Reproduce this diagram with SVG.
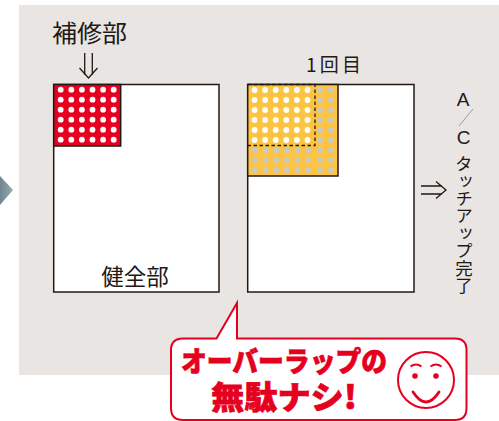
<svg xmlns="http://www.w3.org/2000/svg" xmlns:xlink="http://www.w3.org/1999/xlink" width="499" height="421" viewBox="0 0 499 421">
<style>
.t{font-family:"Noto Sans CJK JP","Liberation Sans",sans-serif;fill:#231815}
.box{fill:#fff;stroke:#231815;stroke-width:1.5}
.arr{fill:none;stroke:#231815;stroke-width:1.3}
.r{font-family:"Noto Sans CJK JP",sans-serif;font-weight:900;fill:#e60020;stroke:#e60020;stroke-width:0.7;text-anchor:middle}
.w{fill:#fff}.g{fill:#c9c9c9}
</style>
<defs>
<circle id="d" r="2.9"/>
<g id="row"><use xlink:href="#d" x="0"/><use xlink:href="#d" x="10.6"/><use xlink:href="#d" x="21.2"/><use xlink:href="#d" x="31.8"/><use xlink:href="#d" x="42.4"/><use xlink:href="#d" x="53"/></g>
<g id="grid"><use xlink:href="#row" y="0"/><use xlink:href="#row" y="10"/><use xlink:href="#row" y="20"/><use xlink:href="#row" y="30"/><use xlink:href="#row" y="40"/><use xlink:href="#row" y="50"/></g>
<linearGradient id="tri" x1="0" x2="1" y1="0" y2="0"><stop offset="0" stop-color="#6f8791"/><stop offset="1" stop-color="#9aa9b0"/></linearGradient>
</defs>
<rect x="19" y="5" width="480" height="370" fill="#e9e5e3"/>
<path d="M0 176L13 190L0 205Z" fill="url(#tri)"/>
<g id="repair-label">
<text class="t" x="52" y="42" font-size="24" textLength="75" lengthAdjust="spacingAndGlyphs">補修部</text>
<path class="arr" d="M84.700 53V75M92.300 53V75M79.500 68L88.500 78L97.500 68"/>
</g>
<g id="sound-panel">
<rect class="box" x="53.700" y="84.500" width="165.300" height="207.500"/>
<rect x="53.700" y="84.500" width="67" height="61.500" fill="#e60020" stroke="#231815" stroke-width="1.500"/>
<use xlink:href="#grid" x="60.700" y="89.700" class="w"/>
<text class="t" x="135" y="285" font-size="22.500" text-anchor="middle">健全部</text>
</g>
<g id="first-panel">
<rect class="box" x="247.700" y="84.500" width="166.300" height="207.500"/>
<rect x="247.700" y="84.500" width="90.300" height="91.500" fill="#fdc441" stroke="#231815" stroke-width="1.500"/>
<use xlink:href="#grid" x="254.500" y="90" class="w"/>
<g class="g">
<use xlink:href="#row" x="255" y="150"/><use xlink:href="#row" x="255" y="160"/><use xlink:href="#row" x="255" y="170"/>
<use xlink:href="#d" x="320" y="90"/><use xlink:href="#d" x="331" y="90"/>
<use xlink:href="#d" x="320" y="100"/><use xlink:href="#d" x="331" y="100"/>
<use xlink:href="#d" x="320" y="110"/><use xlink:href="#d" x="331" y="110"/>
<use xlink:href="#d" x="320" y="120"/><use xlink:href="#d" x="331" y="120"/>
<use xlink:href="#d" x="320" y="130"/><use xlink:href="#d" x="331" y="130"/>
<use xlink:href="#d" x="320" y="140"/><use xlink:href="#d" x="331" y="140"/>
<use xlink:href="#d" x="320" y="150"/><use xlink:href="#d" x="331" y="150"/>
<use xlink:href="#d" x="320" y="160"/><use xlink:href="#d" x="331" y="160"/>
<use xlink:href="#d" x="320" y="170"/><use xlink:href="#d" x="331" y="170"/>
</g>
<path d="M248 84.500H315V145.500H248" fill="none" stroke="#231815" stroke-width="1.300" stroke-dasharray="3.500 2.500"/>
<text class="t" x="306" y="72" font-size="19" textLength="55">1回目</text>
</g>
<g id="complete-label">
<path class="arr" d="M421 186H442M421 194H442M436 181.500L446 190L436 198.500"/>
<text x="463" y="106" font-size="19" text-anchor="middle" font-family="Liberation Sans, sans-serif" fill="#231815">A</text>
<path d="M473 109L459 126" stroke="#8c8a88" stroke-width="0.800" fill="none"/>
<text x="463.500" y="144" font-size="19" text-anchor="middle" font-family="Liberation Sans, sans-serif" fill="#231815">C</text>
<text class="t" x="464" y="155" font-size="17.500" style="writing-mode:vertical-rl" textLength="139" lengthAdjust="spacing">タッチアップ完了</text>
</g>
<g id="callout">
<path d="M183 338.500H216.500L237 303V338.500H455Q466.500 338.500 466.500 350V408Q466.500 420 455 420H183Q171 420 171 408V350Q171 338.500 183 338.500Z" fill="#fff" stroke="#e60020" stroke-width="2"/>
<text class="r" x="284" y="372" font-size="28.500" textLength="206" lengthAdjust="spacingAndGlyphs">オーバーラップの</text>
<text class="r" x="284" y="408.500" font-size="32" textLength="146" lengthAdjust="spacingAndGlyphs">無駄ナシ!</text>
<g fill="none" stroke="#e60020" stroke-width="2">
<circle cx="426" cy="380" r="28"/>
<path d="M410.500 366.500Q416 362.500 421.500 366.500M430.500 366.500Q436 362.500 441.500 366.500"/>
<path d="M413 392Q426 412 439 392" stroke-width="2.800" stroke-linecap="round"/>
</g>
<circle cx="415" cy="376" r="2.800" fill="#e60020"/><circle cx="436" cy="376" r="2.800" fill="#e60020"/>
</g>
</svg>
